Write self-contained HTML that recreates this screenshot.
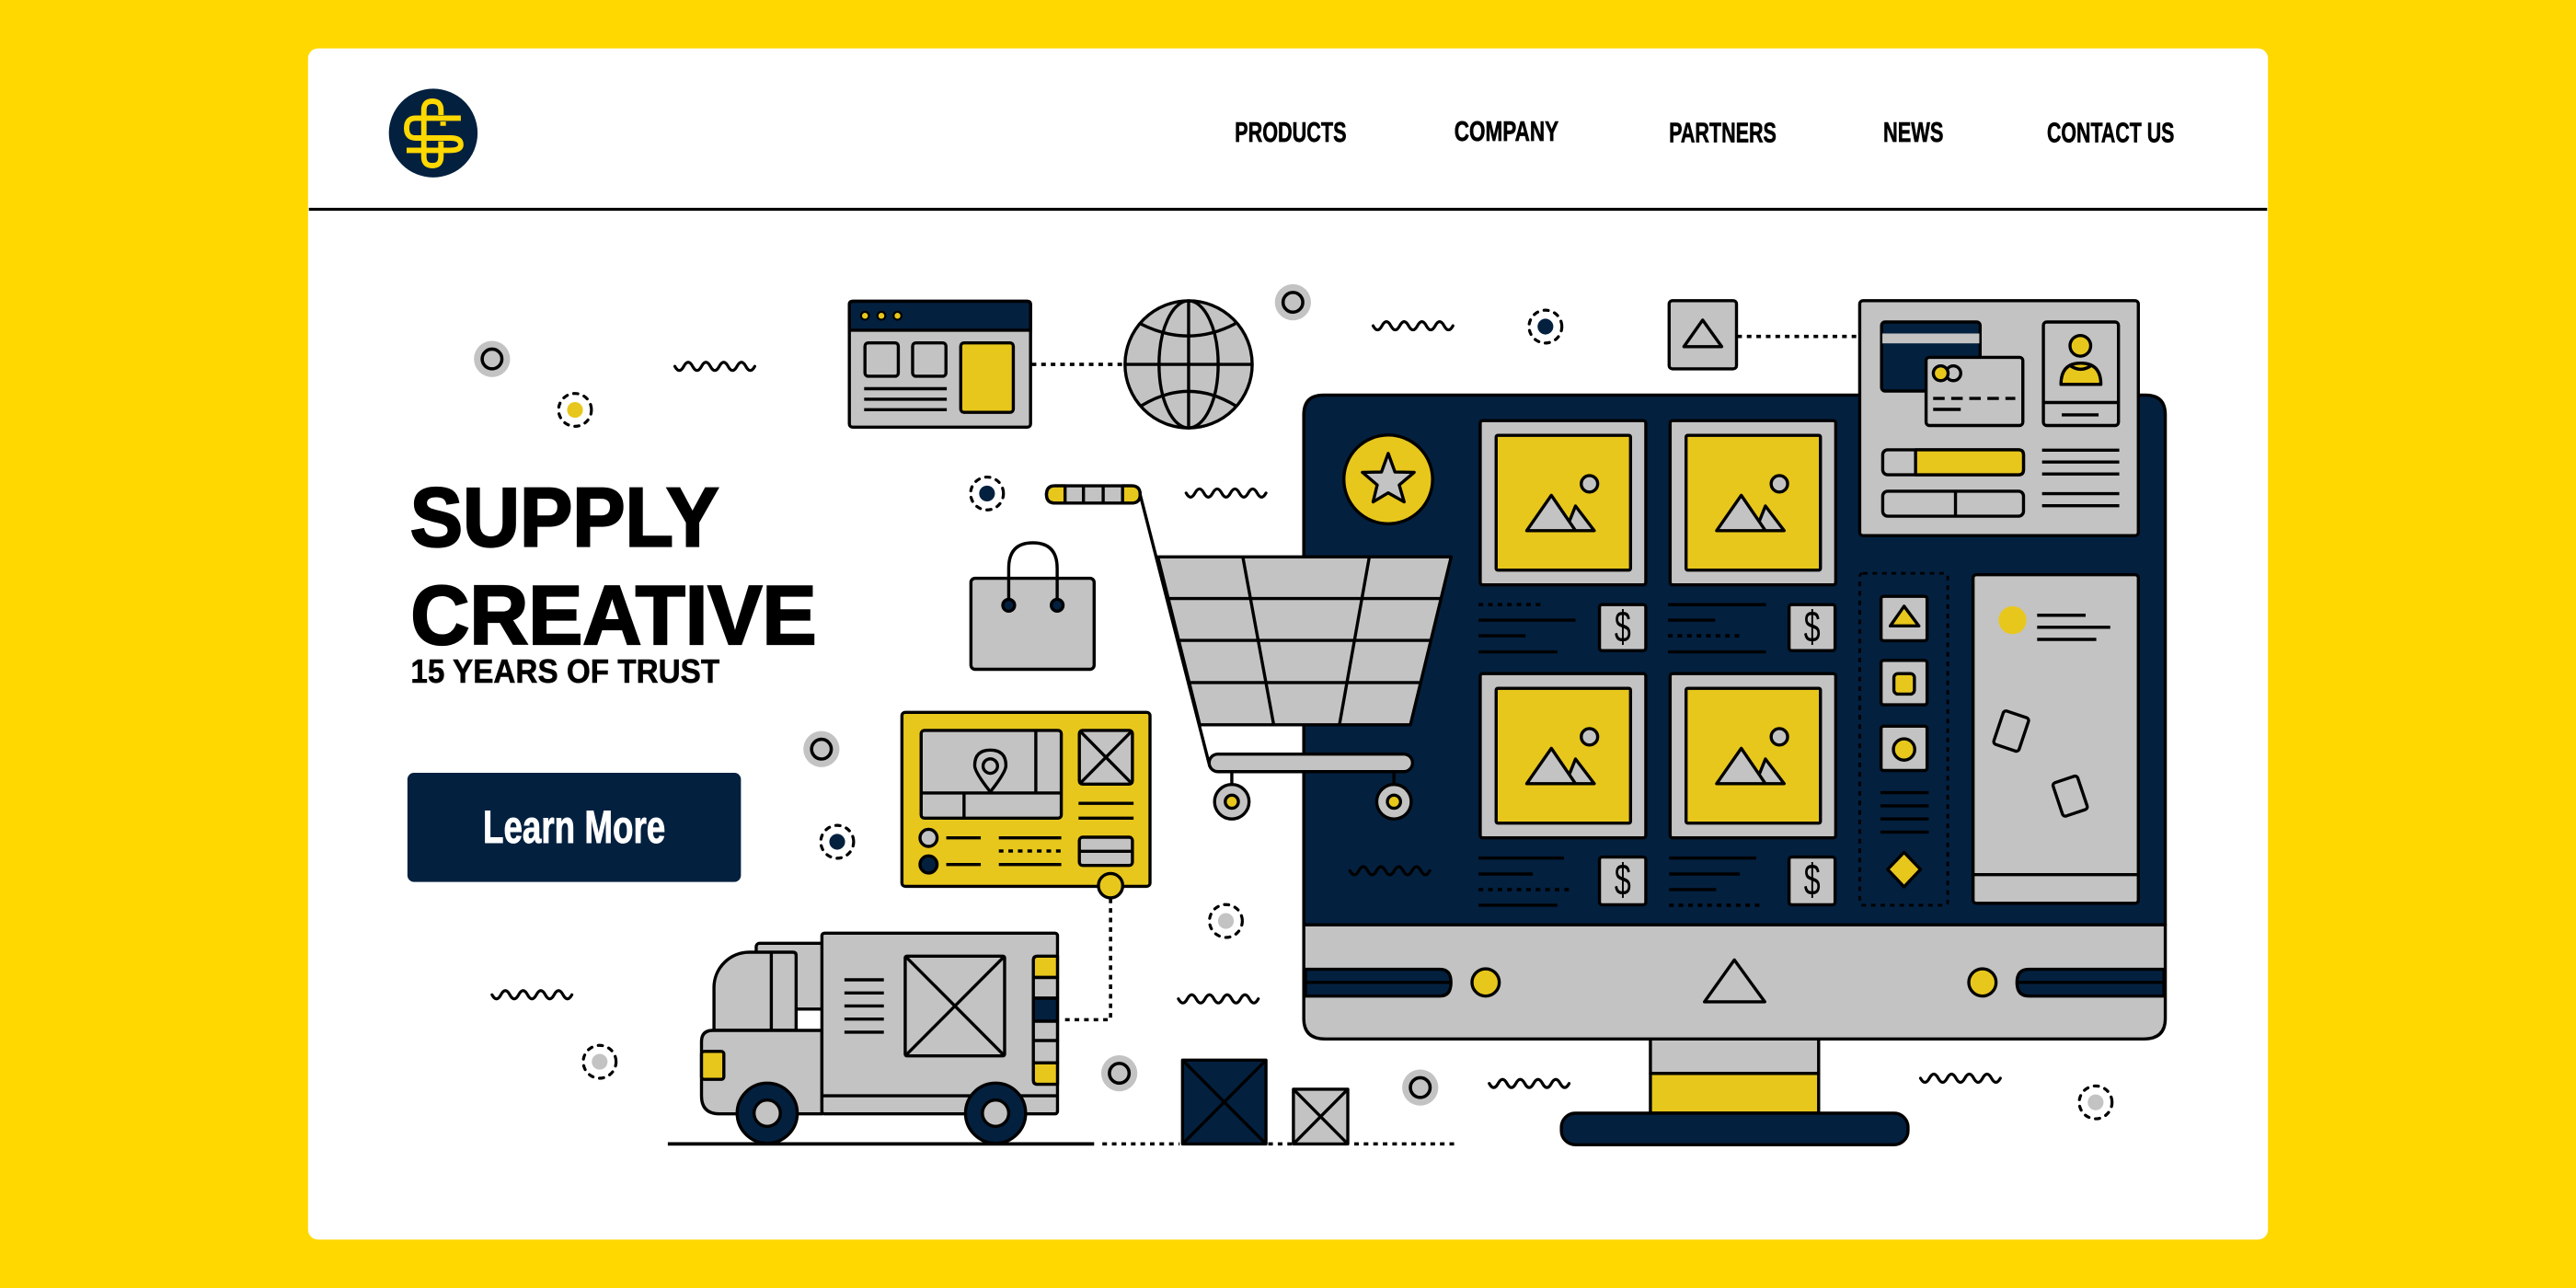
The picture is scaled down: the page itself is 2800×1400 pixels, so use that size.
<!DOCTYPE html>
<html lang="en">
<head>
<meta charset="utf-8">
<title>Supply Creative</title>
<style>
html,body{margin:0;padding:0;background:#FFD800;width:2800px;height:1400px;overflow:hidden}
svg{display:block}
.s{stroke:#000;stroke-width:1.9;stroke-linejoin:round;stroke-linecap:butt}
.g{fill:#C3C3C3}.y{fill:#E8C71C}.n{fill:#03203F}.w{fill:#fff}.o{fill:none}
.d{fill:none;stroke:#000;stroke-width:2;stroke-dasharray:2.8 3}
.l{fill:none;stroke:#000;stroke-width:1.9}
.t{font-family:"Liberation Sans",sans-serif;font-weight:700;fill:#000}
.dl{font-family:"Liberation Sans",sans-serif;font-size:27px;fill:#000}
</style>
</head>
<body>
<svg xmlns="http://www.w3.org/2000/svg" width="2800" height="1400" viewBox="0 0 1568 784">
<defs>
<path id="sq" d="M0 2.5q2.7 5 5.4 0t5.4 0t5.4 0t5.4 0t5.4 0t5.4 0t5.4 0t5.4 0t5.4 0" fill="none" stroke="#000" stroke-width="1.8" stroke-linecap="round"/>
<g id="ring"><circle r="11" fill="#C3C3C3"/><circle r="6" fill="none" stroke="#000" stroke-width="2"/></g>
<circle id="dc" r="10" fill="none" stroke="#000" stroke-width="1.8" stroke-dasharray="2.6 4" stroke-linecap="round"/>
<g id="tile">
<rect x="0" y="0" width="100.8" height="100" rx="1.5" class="g s"/>
<rect x="9.7" y="9" width="81.8" height="82" rx="1" class="y s"/>
<circle cx="66.5" cy="38.5" r="5" class="g s"/>
<polygon points="58,52 69.4,67 52,67" class="g s"/>
<polygon points="43.3,45.5 58,67 28.3,67" class="g s"/>
</g>
</defs>

<rect x="187.5" y="29.5" width="1193" height="725" rx="6" fill="#fff"/>
<rect x="188" y="126.5" width="1192" height="1.8" fill="#000"/>

<!-- logo -->
<circle cx="263.7" cy="81" r="27" fill="#03203F"/>
<g fill="none" stroke="#FFD800" stroke-width="3.3">
<path d="M280.5 71.9H253Q247.5 71.9 247.5 78Q247.5 84 253 84H274Q280.5 84 280.5 88Q280.5 91.5 274 91.5H247.5"/>
<path d="M258 95.5V67Q258 61.6 263.2 61.6Q268.4 61.6 268.4 67V70"/>
<path d="M268.4 86V95.5Q268.4 100.8 263.2 100.8Q258 100.8 258 95.5"/>
</g>
<rect x="268" y="74" width="3.4" height="2.6" fill="#FFD800"/>

<!-- nav -->
<g class="t" font-size="17" stroke="#000" stroke-width=".35">
<text x="751.6" y="86.2" textLength="68" lengthAdjust="spacingAndGlyphs">PRODUCTS</text>
<text x="885.2" y="85.6" textLength="63.5" lengthAdjust="spacingAndGlyphs">COMPANY</text>
<text x="1015.9" y="86.4" textLength="65.4" lengthAdjust="spacingAndGlyphs">PARTNERS</text>
<text x="1146.3" y="86.2" textLength="36.7" lengthAdjust="spacingAndGlyphs">NEWS</text>
<text x="1246" y="86.6" textLength="77.5" lengthAdjust="spacingAndGlyphs">CONTACT US</text>
</g>

<!-- hero text -->
<g class="t" stroke="#000" stroke-width="1.3">
<text x="249.6" y="332.4" font-size="51" textLength="188" lengthAdjust="spacingAndGlyphs">SUPPLY</text>
<text x="250" y="392" font-size="51" textLength="247" lengthAdjust="spacingAndGlyphs">CREATIVE</text>
</g>
<text class="t" stroke="#000" stroke-width=".3" x="250" y="415.4" font-size="20" textLength="188" lengthAdjust="spacingAndGlyphs">15 YEARS OF TRUST</text>
<rect x="248" y="470.4" width="203" height="66.4" rx="4" class="n"/>
<text class="t" style="fill:#fff" stroke="#fff" stroke-width=".5" x="294" y="513" font-size="28" textLength="111" lengthAdjust="spacingAndGlyphs">Learn More</text>

<!-- scatter -->
<use href="#ring" x="299.5" y="218.5"/><use href="#ring" x="787" y="184"/><use href="#ring" x="500" y="456"/><use href="#ring" x="681.3" y="653.3"/><use href="#ring" x="864.5" y="662"/>
<use href="#sq" x="410.8" y="220.5"/><use href="#sq" x="722" y="297.6"/><use href="#sq" x="835.8" y="195.8"/><use href="#sq" x="299.5" y="603"/><use href="#sq" x="717.3" y="605.5"/><use href="#sq" x="906.5" y="657"/><use href="#sq" x="1169" y="653.8"/>
<use href="#dc" x="350" y="249.5"/><circle cx="350" cy="249.5" r="4.8" class="y"/>
<use href="#dc" x="600.8" y="300.4"/><circle cx="600.8" cy="300.4" r="4.8" class="n"/>
<use href="#dc" x="940.7" y="198.8"/><circle cx="940.7" cy="198.8" r="4.8" class="n"/>
<use href="#dc" x="509.6" y="512.4"/><circle cx="509.6" cy="512.4" r="4.8" class="n"/>
<use href="#dc" x="746.2" y="560.6"/><circle cx="746.2" cy="560.6" r="4.8" class="g"/>
<use href="#dc" x="365" y="646.3"/><circle cx="365" cy="646.3" r="4.8" class="g"/>
<use href="#dc" x="1275.6" y="671"/><circle cx="1275.6" cy="671" r="4.8" class="g"/>

<!-- browser + globe -->
<rect x="517" y="183.4" width="110.3" height="76.6" rx="2" class="g s"/>
<path d="M517 201V185.4Q517 183.4 519 183.4H625.3Q627.3 183.4 627.3 185.4V201Z" class="n s"/>
<g class="y" stroke="#000" stroke-width="1.2"><circle cx="526.5" cy="192.2" r="2.4"/><circle cx="536.5" cy="192.2" r="2.4"/><circle cx="546.3" cy="192.2" r="2.4"/></g>
<rect x="526.5" y="208.7" width="20.3" height="20.3" rx="2" class="g s"/>
<rect x="555.5" y="208.7" width="20.3" height="20.3" rx="2" class="g s"/>
<rect x="584.8" y="208.7" width="32" height="42.3" rx="2" class="y s"/>
<path d="M526 236.6H576.3M526 243H576.3M526 249.4H576.3" class="l"/>
<path d="M628 221.8H684.5" class="d"/>
<circle cx="723.5" cy="221.8" r="38.7" class="g s"/>
<g class="l">
<ellipse cx="723.5" cy="221.8" rx="18" ry="38.7"/>
<path d="M723.5 183.1V260.5M684.8 221.8H762.2"/>
<path d="M694 197Q723.5 212 752 197"/>
<path d="M694.8 246.9Q723.5 229.5 752 246.9"/>
</g>

<!-- monitor stand -->
<rect x="1004.6" y="632.4" width="102.4" height="21" class="g s"/>
<rect x="1004.6" y="653.4" width="102.4" height="24.2" class="y s"/>
<rect x="950.4" y="677.6" width="211" height="19.2" rx="8.5" class="n s"/>
<!-- monitor -->
<path d="M793.6 563V252.5Q793.6 240.5 805.6 240.5H1306Q1318 240.5 1318 252.5V563Z" class="n s"/>
<path d="M793.6 563H1318V620Q1318 632.4 1305 632.4H806.5Q793.6 632.4 793.6 620Z" class="g s"/>
<path d="M794.6 590H876.5Q883.2 590 883.2 598Q883.2 606.3 876.5 606.3H794.6Z" class="n s"/>
<path d="M794.6 598H883" class="l"/>
<path d="M1317.2 590H1235Q1227.7 590 1227.7 598Q1227.7 606.3 1235 606.3H1317.2Z" class="n s"/>
<path d="M1228 598H1317" class="l"/>
<circle cx="904.3" cy="598" r="8.3" class="y s"/>
<circle cx="1206.7" cy="598" r="8.3" class="y s"/>
<polygon points="1055.7,584.3 1074.2,609.8 1037.5,609.8" class="g s"/>

<!-- star -->
<circle cx="845" cy="291.8" r="27" class="y s"/>
<polygon points="845,276 849.1,287.3 860.8,287.5 851.7,295.2 854.7,305.5 845,300 835.8,305.5 838.3,295.2 829.3,287.5 840.9,287.3" class="g s"/>

<!-- tiles -->
<use href="#tile" x="901" y="256"/><use href="#tile" x="1016.6" y="256"/><use href="#tile" x="901" y="410"/><use href="#tile" x="1016.6" y="410"/>

<!-- tile text lines -->
<path d="M900 377.5H959M900 387H928.6M900 396.8H948M1015.3 368H1075M1015.3 377.5H1044M1015.3 396.8H1075M900 522.3H952M900 532H933M900 551H948M1016 522.3H1069M1016 532H1059M1016 541.5H1044.6" class="l"/>
<path d="M900 368H939.3M1015.3 387H1060.7M900 541.5H957M1016 551H1072.5" class="d"/>
<g class="g s">
<rect x="973.6" y="368" width="28.2" height="28" rx="1.5"/><rect x="1089" y="368" width="28" height="28" rx="1.5"/>
<rect x="973.6" y="521.7" width="28.2" height="29" rx="1.5"/><rect x="1089" y="521.7" width="28" height="29" rx="1.5"/>
</g>
<text class="dl" x="982.7" y="390.5" textLength="10" lengthAdjust="spacingAndGlyphs">$</text><text class="dl" x="1098" y="390.5" textLength="10" lengthAdjust="spacingAndGlyphs">$</text>
<text class="dl" x="982.7" y="544.5" textLength="10" lengthAdjust="spacingAndGlyphs">$</text><text class="dl" x="1098" y="544.5" textLength="10" lengthAdjust="spacingAndGlyphs">$</text>

<!-- dashed panel -->
<rect x="1132" y="349" width="53.6" height="202" rx="2" fill="none" stroke="#000" stroke-width="1.6" stroke-dasharray="2.8 3"/>
<g class="g s">
<rect x="1145" y="363" width="28" height="27" rx="1.5"/><rect x="1145" y="402" width="28" height="27" rx="1.5"/><rect x="1145" y="442" width="28" height="27" rx="1.5"/>
</g>
<polygon points="1159,369 1168,381 1150.6,381" class="y s"/>
<rect x="1152.8" y="410" width="12.5" height="12.5" rx="2.5" class="y s"/>
<circle cx="1159" cy="456.2" r="6.5" class="y s"/>
<path d="M1144.6 482.5H1174M1144.6 490.5H1174M1144.6 498.5H1174M1144.6 506.5H1174" class="l"/>
<polygon points="1159,518.8 1169,529.2 1159,539.8 1149,529.2" class="y s"/>

<!-- right panel -->
<rect x="1201" y="349.8" width="100.6" height="200" rx="2" class="g s"/>
<path d="M1201 532.4H1301.6" class="l"/>
<circle cx="1225" cy="377.5" r="8.5" class="y"/>
<path d="M1240 374.5H1269.5M1240 381.8H1284.5M1240 389.2H1276" class="l"/>
<rect x="-8.1" y="-10.7" width="16.2" height="21.4" rx="1.8" class="l" transform="translate(1224.2 445) rotate(18.5)"/>
<rect x="-7.9" y="-10.7" width="15.8" height="21.4" rx="1.8" class="l" transform="translate(1260.1 484.6) rotate(-18.5)"/>

<!-- top-right panel -->
<rect x="1132" y="183" width="169.6" height="143" rx="2" class="g s"/>
<rect x="1145.3" y="196" width="60" height="42" rx="2" class="n s"/>
<rect x="1145.8" y="203" width="59" height="6" class="g"/>
<rect x="1172.4" y="217.5" width="58.9" height="41.5" rx="2" class="g s"/>
<circle cx="1189" cy="227.2" r="4.5" class="g s"/>
<circle cx="1181.3" cy="227.2" r="4.5" class="y s"/>
<path d="M1176.7 242.5H1226.7" fill="none" stroke="#000" stroke-width="1.9" stroke-dasharray="7 4"/>
<path d="M1176.7 249.2H1193.5" class="l"/>
<rect x="1243.8" y="196" width="45.7" height="63" rx="2" class="g s"/>
<path d="M1243.8 245H1289.5M1255 252.5H1277.4" class="l"/>
<circle cx="1266.3" cy="210.5" r="6.3" class="y s"/>
<path d="M1254.5 234Q1254.5 221 1266.5 221Q1278.8 221 1278.8 234Z" class="y s"/>
<path d="M1260 222.5Q1266.5 227 1273 222.5" class="l"/>
<rect x="1146" y="273.8" width="85.7" height="15.2" rx="3" class="g s"/>
<path d="M1166 273.8H1228.7Q1231.7 273.8 1231.7 276.8V286Q1231.7 289 1228.7 289H1166Z" class="y s"/>
<rect x="1146" y="299" width="85.7" height="15.2" rx="3" class="g s"/>
<path d="M1190.3 299V314.2M1243 274H1290M1243 281.2H1290M1243 288.5H1290M1243 300.5H1290M1243 307.8H1290" class="l"/>

<!-- triangle box -->
<rect x="1016" y="183" width="41" height="41.5" rx="2" class="g s"/>
<polygon points="1036.4,194.8 1048,211 1025,211" class="g s"/>
<path d="M1057.5 204.8H1132" class="d"/>

<!-- bag -->
<rect x="591" y="352" width="75" height="55.4" rx="2.5" class="g s"/>
<path d="M614 368.4V346Q614 330.4 628.7 330.4Q643.5 330.4 643.5 346V368.4" class="l"/>
<circle cx="614" cy="368.4" r="3.6" class="n s"/><circle cx="643.5" cy="368.4" r="3.6" class="n s"/>

<!-- cart -->
<path d="M694 301L736 465" class="l"/>
<rect x="637" y="295.7" width="57" height="10.5" rx="5" class="g s"/>
<path d="M648.3 295.7H642Q637 295.7 637 301Q637 306.2 642 306.2H648.3Z" class="y s"/>
<path d="M683.3 295.7H689Q694 295.7 694 301Q694 306.2 689 306.2H683.3Z" class="y s"/>
<path d="M659.5 295.7V306.2M671.5 295.7V306.2" class="l"/>
<polygon points="704.8,339 883.3,339 858.5,441.2 730.3,441.2" class="g s"/>
<path d="M710.8 364.3H877M717.3 389.8H870.3M724 415.5H864M756.5 339L775.3 441.2M833.5 339L815.3 441.2" class="l"/>
<rect x="736" y="459" width="123.8" height="10.7" rx="5.3" class="g s"/>
<path d="M749.8 469.7V478M848.5 469.7V478" class="l"/>
<circle cx="749.8" cy="488" r="10.5" class="g s"/><circle cx="749.8" cy="488" r="4" class="y s"/>
<circle cx="848.5" cy="488" r="10.5" class="g s"/><circle cx="848.5" cy="488" r="4" class="y s"/>

<!-- map card -->
<rect x="549" y="433.6" width="151" height="105.9" rx="2" class="y s"/>
<rect x="560.7" y="444.6" width="85.3" height="53.4" rx="2" class="g s"/>
<path d="M630.5 444.6V482.7M560.7 482.7H646M586.8 482.7V498" class="l"/>
<path d="M602.8 482Q593.3 470 593.3 466Q593.3 456.6 602.8 456.6Q612.3 456.6 612.3 466Q612.3 470 602.8 482Z" class="g s"/>
<circle cx="602.8" cy="466.3" r="4.4" class="g s"/>
<rect x="657" y="444.6" width="32.3" height="32.7" rx="2" class="g s"/>
<path d="M657 444.6L689.3 477.3M689.3 444.6L657 477.3M656.5 489H690M656.5 498H690M576 510H597M576 526.2H597M608 510H646M608 526.2H646" class="l"/>
<path d="M608 518H646" class="d"/>
<circle cx="565.2" cy="510" r="5.2" class="g s"/><circle cx="565.2" cy="526.2" r="5.2" class="n s"/>
<rect x="657" y="509.6" width="32.3" height="17.2" rx="2" class="g s"/>
<path d="M657 518.2H689.3" class="l"/>
<circle cx="676" cy="539.1" r="7.4" class="y s"/>
<path d="M676 547V620.7H646.9" class="d"/>

<!-- truck -->
<rect x="460.3" y="574.2" width="42" height="40" rx="2" class="g s"/>
<path d="M484.6 627.2V581.6Q484.6 579.6 482.6 579.6H456A21.5 21.5 0 0 0 434.6 601V627.2Z" class="g s"/>
<path d="M469.5 579.6V627.2" class="l"/>
<path d="M500.3 627.2H434Q427 627.2 427 634V667Q427 678 438 678H500.3Z" class="g s"/>
<rect x="427" y="640" width="13.6" height="17" rx="1.5" class="y s"/>
<rect x="500.3" y="568" width="143.4" height="110" rx="1.5" class="g s"/>
<path d="M500.3 667H643.7M514 596.4H538M514 604.4H538M514 612.3H538M514 620.3H538M514 628.3H538" class="l"/>
<rect x="551" y="582" width="60.5" height="60.7" rx="1" class="g s"/>
<path d="M551 582L611.5 642.7M611.5 582L551 642.7" class="l"/>
<path d="M643.7 582H631.5Q629 582 629 584.5V595H643.7Z" class="y s"/>
<rect x="629" y="595" width="14.7" height="12.6" class="g s"/>
<rect x="629" y="607.6" width="14.7" height="14" class="n s"/>
<rect x="629" y="621.6" width="14.7" height="11.8" class="g s"/>
<rect x="629" y="633.4" width="14.7" height="13.6" class="g s"/>
<path d="M643.7 660H631.5Q629 660 629 657.5V647H643.7Z" class="y s"/>
<circle cx="467" cy="677.6" r="18.3" class="n s"/><circle cx="467" cy="677.6" r="8" class="g s"/>
<circle cx="606" cy="677.6" r="18.3" class="n s"/><circle cx="606" cy="677.6" r="8" class="g s"/>

<!-- ground -->
<path d="M406.5 696.3H666" class="l" style="stroke-width:2.1"/>
<path d="M671 696.3H718M772 696.3H786.7M824.3 696.3H887" class="d"/>
<rect x="719.8" y="645.3" width="50.8" height="51" class="n s"/>
<path d="M719.8 645.3L770.6 696.3M770.6 645.3L719.8 696.3" class="l"/>
<rect x="787.3" y="663" width="33.1" height="33.3" class="g s"/>
<path d="M787.3 663L820.4 696.3M820.4 663L787.3 696.3" class="l"/>
<use href="#sq" x="821.7" y="527.5"/>
</svg>
</body>
</html>
